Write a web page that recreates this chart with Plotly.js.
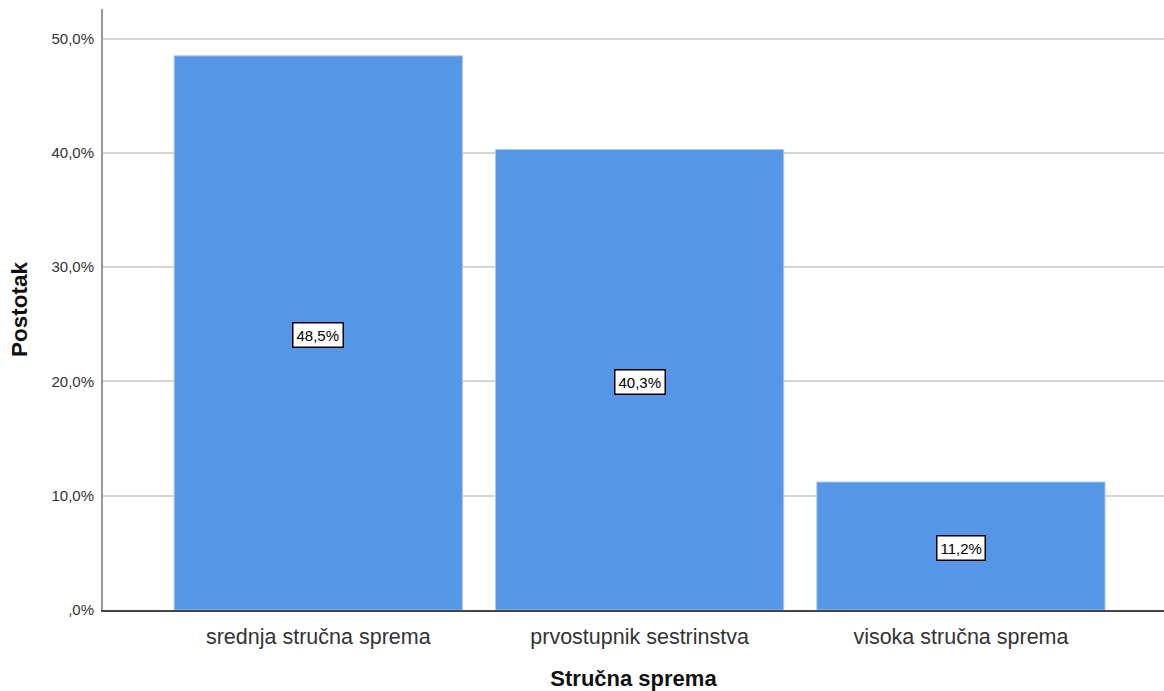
<!DOCTYPE html>
<html>
<head>
<meta charset="utf-8">
<script src="https://cdn.plot.ly/plotly-3.0.1.min.js"></script>
<style>html,body{margin:0;padding:0;background:#fff;}#chart{width:1164px;height:691px;}</style>
</head>
<body>
<div id="chart"></div>
<script>
const categories = ["srednja stručna sprema", "prvostupnik sestrinstva", "visoka stručna sprema"];
const percentValues = [48.5, 40.3, 11.2];
const valueLabels = ["48,5%", "40,3%", "11,2%"];
const yTickValues = [0, 10, 20, 30, 40, 50];
const yTickLabels = [",0%", "10,0%", "20,0%", "30,0%", "40,0%", "50,0%"];

const trace = {
  type: "bar",
  x: categories,
  y: percentValues,
  marker: {color: "#5596e6", line: {color: "#a9c9f2", width: 1}},
  hoverinfo: "none"
};

const annotations = categories.map((c, i) => ({
  x: c, y: percentValues[i] / 2, xref: "x", yref: "y",
  yshift: -2,
  text: valueLabels[i], showarrow: false,
  bgcolor: "#ffffff", bordercolor: "#000000", borderwidth: 1.5, borderpad: 3,
  font: {family: "Liberation Sans, Arial, sans-serif", size: 15, color: "#000"}
}));

const layout = {
  width: 1164, height: 691,
  margin: {l: 103, r: 0, t: 9, b: 81},
  paper_bgcolor: "#fff", plot_bgcolor: "#fff",
  bargap: 0.103,
  showlegend: false,
  font: {family: "Liberation Sans, Arial, sans-serif", color: "#222"},
  xaxis: {
    type: "category",
    range: [-0.67, 2.632],
    showgrid: false,
    showline: true, linecolor: "#444", linewidth: 1.5,
    ticks: "", ticklabelstandoff: 7,
    tickfont: {size: 21.5, color: "#333"},
    title: {text: "<b>Stručna sprema</b>", font: {size: 22, color: "#111"}, standoff: 22},
    fixedrange: true
  },
  yaxis: {
    range: [0, 52.6],
    tickvals: yTickValues, ticktext: yTickLabels,
    showgrid: true, gridcolor: "#d4d4d4", gridwidth: 2,
    showline: true, linecolor: "#999", linewidth: 2,
    zeroline: false,
    ticks: "", ticklabelstandoff: 4,
    tickfont: {size: 15, color: "#333"},
    title: {text: "<b>Postotak</b>", font: {size: 22.5, color: "#111"}, standoff: 18},
    fixedrange: true
  },
  annotations: annotations
};

Plotly.newPlot("chart", [trace], layout, {displayModeBar: false, staticPlot: true});
</script>
</body>
</html>
